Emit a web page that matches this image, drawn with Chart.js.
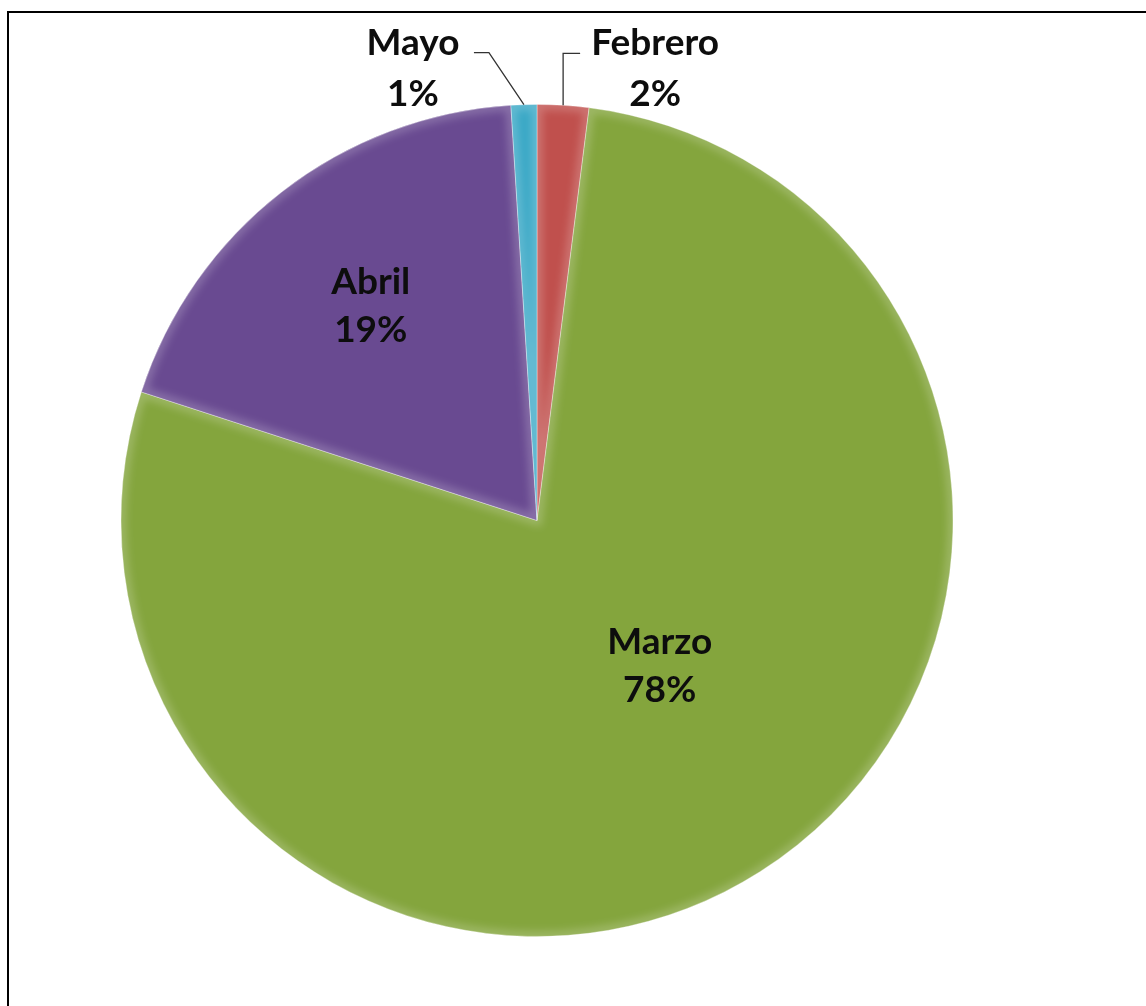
<!DOCTYPE html>
<html>
<head>
<meta charset="utf-8">
<script src="https://cdn.jsdelivr.net/npm/chart.js@4.4.0/dist/chart.umd.min.js"></script>
<style>
html, body { margin: 0; padding: 0; background: #fff; overflow: hidden; }
#marco { position: absolute; left: 7px; top: 11px; width: 1300px; height: 1200px; border-top: 2px solid #000; border-left: 2px solid #000; }
#caja { position: absolute; left: 0; top: 0; width: 1146px; height: 1006px; }
</style>
</head>
<body>
<div id="marco"></div>
<div id="caja"><canvas id="grafica"></canvas></div>
<script>
// datos del grafico
var meses = ['Febrero', 'Marzo', 'Abril', 'Mayo'];
var valores = [2, 78, 19, 1];
var colores = ['#C0504D', '#84A53D', '#694A91', '#3AA8C6'];

var total = valores.reduce(function(a, b){ return a + b; }, 0);
var fuente = 'bold 37px Lato, "Open Sans", sans-serif';

// donde va cada etiqueta: dentro (fraccion del radio) o fuera con linea guia
var sitios = [
    {fuera: true, lado: 1, dx: 92},
    {r: 0.458, da: -0.134},
    {r: 0.652, da: 0},
    {fuera: true, lado: -1, dx: -111}
];

// brillo en los bordes de cada porcion
var bisel = {
    id: 'bisel',
    afterDatasetsDraw: function(chart){
        var ctx = chart.ctx;
        chart.getDatasetMeta(0).data.forEach(function(arc){
            var p = arc.getProps(['x','y','startAngle','endAngle','outerRadius'], true);
            ctx.save();
            ctx.beginPath();
            ctx.moveTo(p.x, p.y);
            ctx.arc(p.x, p.y, p.outerRadius, p.startAngle, p.endAngle);
            ctx.closePath();
            ctx.clip();
            ctx.filter = 'blur(4px)';
            ctx.lineWidth = 10;
            ctx.strokeStyle = 'rgba(255,255,255,0.22)';
            ctx.stroke();
            ctx.restore();
        });
    }
};

var etiquetas = {
    id: 'etiquetas',
    afterDraw: function(chart){
        var ctx = chart.ctx;
        ctx.save();
        ctx.font = fuente;
        ctx.textAlign = 'center';
        ctx.textBaseline = 'middle';
        ctx.fillStyle = '#0d0d0d';
        chart.getDatasetMeta(0).data.forEach(function(arc, i){
            var p = arc.getProps(['x','y','startAngle','endAngle','outerRadius'], true);
            var mid = (p.startAngle + p.endAngle) / 2;
            var txt = [meses[i], Math.round(valores[i] / total * 100) + '%'];
            var s = sitios[i];
            if (s.fuera) {
                var ex = p.x + Math.cos(mid) * p.outerRadius;
                var ey = p.y + Math.sin(mid) * p.outerRadius;
                var codoY = ey - 52;
                ctx.beginPath();
                ctx.strokeStyle = '#333';
                ctx.lineWidth = 1.3;
                ctx.moveTo(ex, ey);
                if (s.lado > 0) {
                    ctx.lineTo(ex, codoY);
                    ctx.lineTo(ex + 17, codoY);
                } else {
                    ctx.lineTo(ex - 35, codoY);
                    ctx.lineTo(ex - 50, codoY);
                }
                ctx.stroke();
                ctx.fillText(txt[0], ex + s.dx, ey - 62);
                ctx.fillText(txt[1], ex + s.dx, ey - 11);
            } else {
                var a = mid + s.da;
                var cx = p.x + Math.cos(a) * p.outerRadius * s.r;
                var cy = p.y + Math.sin(a) * p.outerRadius * s.r;
                ctx.fillText(txt[0], cx, cy - 24);
                ctx.fillText(txt[1], cx, cy + 24);
            }
        });
        ctx.restore();
    }
};

new Chart(document.getElementById('grafica'), {
    type: 'pie',
    data: {
        labels: meses,
        datasets: [{
            data: valores,
            backgroundColor: colores,
            borderColor: 'rgba(255,255,255,0.35)',
            borderWidth: 1
        }]
    },
    options: {
        responsive: true,
        maintainAspectRatio: false,
        animation: false,
        layout: { padding: { left: 120, right: 192, top: 104, bottom: 69 } },
        plugins: {
            legend: { display: false },
            tooltip: { enabled: false }
        }
    },
    plugins: [bisel, etiquetas]
});
</script>
</body>
</html>
